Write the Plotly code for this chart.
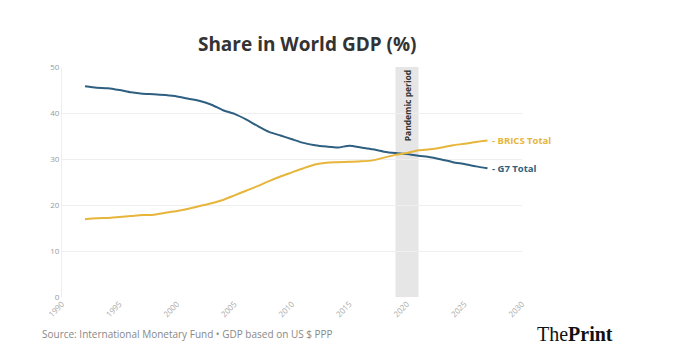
import plotly.graph_objects as go

years = list(range(1992, 2028))
g7_total = [45.8, 45.5, 45.4, 45.0, 44.5, 44.2, 44.1, 43.9, 43.6, 43.1,
            42.6, 41.8, 40.6, 39.8, 38.6, 37.2, 35.9, 35.1, 34.3, 33.5,
            33.0, 32.7, 32.5, 32.9, 32.5, 32.1, 31.6, 31.3, 31.1, 30.7,
            30.4, 29.9, 29.3, 28.9, 28.4, 28.0]
brics_total = [16.9, 17.1, 17.2, 17.4, 17.6, 17.8, 17.9, 18.3, 18.7, 19.2,
               19.8, 20.4, 21.1, 22.1, 23.1, 24.1, 25.2, 26.2, 27.1, 28.0,
               28.8, 29.2, 29.3, 29.4, 29.5, 29.7, 30.3, 30.9, 31.3, 31.9,
               32.1, 32.5, 33.0, 33.3, 33.7, 34.0]
x_ticks = [1990, 1995, 2000, 2005, 2010, 2015, 2020, 2025, 2030]
y_ticks = [0, 10, 20, 30, 40, 50]
pandemic = [2019, 2021]

G7_COLOR = "#2e5f80"
BRICS_COLOR = "#e6b53a"
FONT = "Open Sans"

fig = go.Figure()
fig.add_vrect(x0=pandemic[0], x1=pandemic[1], fillcolor="#e6e6e6",
              opacity=1, line_width=0, layer="below")
fig.add_trace(go.Scatter(x=years, y=g7_total, mode="lines", name="G7 Total",
                         line=dict(color=G7_COLOR, width=2, shape="spline",
                                   smoothing=0.6), hoverinfo="x+y"))
fig.add_trace(go.Scatter(x=years, y=brics_total, mode="lines", name="BRICS Total",
                         line=dict(color=BRICS_COLOR, width=2, shape="spline",
                                   smoothing=0.6), hoverinfo="x+y"))

fig.add_annotation(x=years[-1], y=brics_total[-1], text="- BRICS Total",
                   showarrow=False, xanchor="left", xshift=2,
                   font=dict(family=FONT, size=9.5, color=BRICS_COLOR, weight="bold"))
fig.add_annotation(x=years[-1], y=g7_total[-1], text="- G7 Total",
                   showarrow=False, xanchor="left", xshift=2,
                   font=dict(family=FONT, size=9.5, color=G7_COLOR, weight="bold"))
fig.add_annotation(x=(pandemic[0] + pandemic[1]) / 2, y=49.6, text="Pandemic period",
                   showarrow=False, textangle=-90, yanchor="top",
                   font=dict(family=FONT, size=8.5, color="#333333", weight="bold"))

fig.add_annotation(xref="paper", yref="paper", x=-0.048, y=-0.161, xanchor="left",
                   yanchor="middle", showarrow=False,
                   text="Source: International Monetary Fund \u2022 GDP based on US $ PPP",
                   font=dict(family=FONT, size=10, color="#888888"))
fig.add_annotation(xref="paper", yref="paper", x=1.115, y=-0.161, xanchor="center",
                   yanchor="middle", showarrow=False,
                   text="The<b>Print</b>",
                   font=dict(family="Liberation Serif", size=20, color="#111111"))

fig.update_layout(
    width=665, height=356,
    margin=dict(l=54, r=151, t=59, b=67),
    paper_bgcolor="white", plot_bgcolor="white",
    showlegend=False,
    title=dict(text="<b>Share in World GDP (%)</b>", x=0.45, xanchor="center",
               y=0.899, yanchor="middle",
               font=dict(family=FONT, size=19, color="#333333")),
    xaxis=dict(range=[1990, 2030], tickvals=x_ticks, tickangle=-45,
               showgrid=False, zeroline=False, showline=False,
               tickfont=dict(family=FONT, size=8, color="#aaaaaa")),
    yaxis=dict(range=[0, 50], tickvals=y_ticks, showgrid=True,
               gridcolor="#efefef", zeroline=False, showline=True,
               linecolor="#eeeeee",
               tickfont=dict(family=FONT, size=8, color="#999999")),
)

fig.write_html("out.html")
